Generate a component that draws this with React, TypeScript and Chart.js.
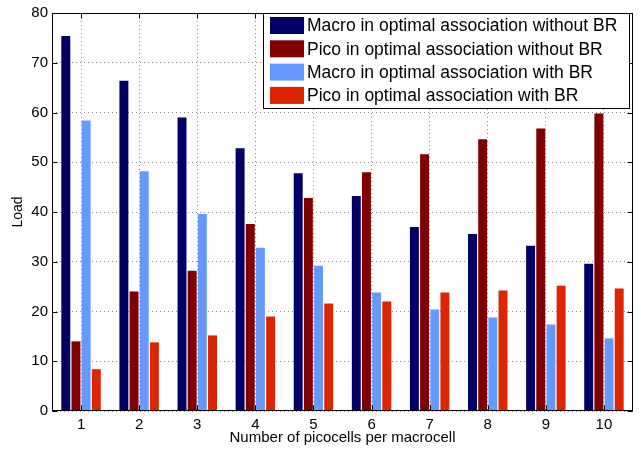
import React, { useEffect, useRef } from "react";
import { Chart, registerables } from "chart.js";

Chart.register(...registerables);

const categories = ["1", "2", "3", "4", "5", "6", "7", "8", "9", "10"];
const macroNoBR = [75.4, 66.4, 59.0, 52.8, 47.8, 43.2, 37.0, 35.6, 33.2, 29.6];
const picoNoBR = [14.0, 24.0, 28.2, 37.6, 42.8, 48.0, 51.6, 54.6, 56.8, 59.8];
const macroBR = [58.4, 48.2, 39.6, 32.8, 29.2, 23.8, 20.4, 18.8, 17.4, 14.6];
const picoBR = [8.4, 13.8, 15.2, 19.0, 21.6, 22.0, 23.8, 24.2, 25.2, 24.6];
const seriesLabels = [
  "Macro in optimal association without BR",
  "Pico in optimal association without BR",
  "Macro in optimal association with BR",
  "Pico in optimal association with BR",
];
const seriesColors = ["#000066", "#800000", "#6699ff", "#dd2600"];
const yTicks = [0, 10, 20, 30, 40, 50, 60, 70, 80];

const FONT = "'Liberation Sans', Arial, Helvetica, sans-serif";

const framePlugin = {
  id: "matlabFrame",
  afterDraw(chart: any) {
    const { ctx, chartArea } = chart;
    const { left, right, top, bottom } = chartArea;
    const xs = chart.scales.x;
    const ys = chart.scales.y;
    ctx.save();
    ctx.strokeStyle = "#000";
    ctx.lineWidth = 1;
    ctx.setLineDash([]);
    const L = Math.round(left) + 0.5;
    const R = Math.round(right) - 0.5;
    const T = Math.round(top) + 0.5;
    const B = Math.round(bottom) - 0.5;
    ctx.strokeRect(L, T, R - L, B - T);
    const tl = 5;
    ctx.beginPath();
    for (let i = 0; i < categories.length; i++) {
      const x = Math.round(xs.getPixelForTick(i)) + 0.5;
      ctx.moveTo(x, B);
      ctx.lineTo(x, B - tl);
      ctx.moveTo(x, T);
      ctx.lineTo(x, T + tl);
    }
    for (const v of yTicks) {
      const y = Math.round(ys.getPixelForValue(v)) + 0.5;
      ctx.moveTo(L, y);
      ctx.lineTo(L + tl, y);
      ctx.moveTo(R, y);
      ctx.lineTo(R - tl, y);
    }
    ctx.stroke();

    // legend
    const lx = 263.5, ly = 13.5, lw = 366, lh = 95;
    ctx.fillStyle = "#fff";
    ctx.fillRect(lx, ly, lw, lh);
    ctx.strokeStyle = "#000";
    ctx.strokeRect(lx, ly, lw, lh);
    ctx.font = `17.5px ${FONT}`;
    ctx.textBaseline = "middle";
    ctx.textAlign = "left";
    chart.data.datasets.forEach((ds: any, i: number) => {
      const cy = 25.5 + i * 23.3;
      ctx.fillStyle = ds.backgroundColor;
      ctx.fillRect(270, cy - 8.5, 34, 17);
      ctx.fillStyle = "#000";
      ctx.fillText(ds.label, 307, cy + 1);
    });
    ctx.restore();
  },
};

export default function App() {
  const ref = useRef<HTMLCanvasElement>(null);
  useEffect(() => {
    if (!ref.current) return;
    const chart = new Chart(ref.current, {
      type: "bar",
      data: {
        labels: categories,
        datasets: [macroNoBR, picoNoBR, macroBR, picoBR].map((d, i) => ({
          label: seriesLabels[i],
          data: d,
          backgroundColor: seriesColors[i],
          borderWidth: 0,
          categoryPercentage: 0.7,
          barPercentage: 0.88,
        })),
      },
      options: {
        responsive: false,
        animation: false,
        devicePixelRatio: 1,
        layout: { padding: { top: 11, right: 8, left: 0, bottom: 0 } },
        plugins: { legend: { display: false }, tooltip: { enabled: false } },
        scales: {
          x: {
            type: "category",
            offset: true,
            afterFit: (s: any) => {
              s.height = 40;
            },
            grid: {
              offset: false,
              drawTicks: false,
              color: "rgba(0,0,0,0.45)",
              lineWidth: 1,
            },
            border: { display: false, dash: [1, 3] },
            ticks: {
              padding: 5,
              color: "#000",
              font: { family: FONT, size: 15 },
              maxRotation: 0,
            },
            title: {
              display: true,
              text: "Number of picocells per macrocell",
              color: "#000",
              font: { family: FONT, size: 15 },
              padding: { top: 0, bottom: 4 },
            },
          },
          y: {
            min: 0,
            max: 80,
            afterFit: (s: any) => {
              s.width = 52;
            },
            grid: {
              drawTicks: false,
              color: "rgba(0,0,0,0.45)",
              lineWidth: 1,
            },
            border: { display: false, dash: [1, 3] },
            ticks: {
              stepSize: 10,
              padding: 4,
              color: "#000",
              font: { family: FONT, size: 15 },
            },
            title: {
              display: true,
              text: "Load",
              color: "#000",
              font: { family: FONT, size: 14 },
              padding: { top: 10, bottom: 0 },
            },
          },
        },
      },
      plugins: [framePlugin],
    } as any);
    return () => chart.destroy();
  }, []);
  return (
    <div style={{ position: "absolute", left: 0, top: 0, width: 641, height: 451, background: "#fff" }}>
      <canvas ref={ref} width={641} height={451} style={{ display: "block", width: 641, height: 451 }} />
    </div>
  );
}
